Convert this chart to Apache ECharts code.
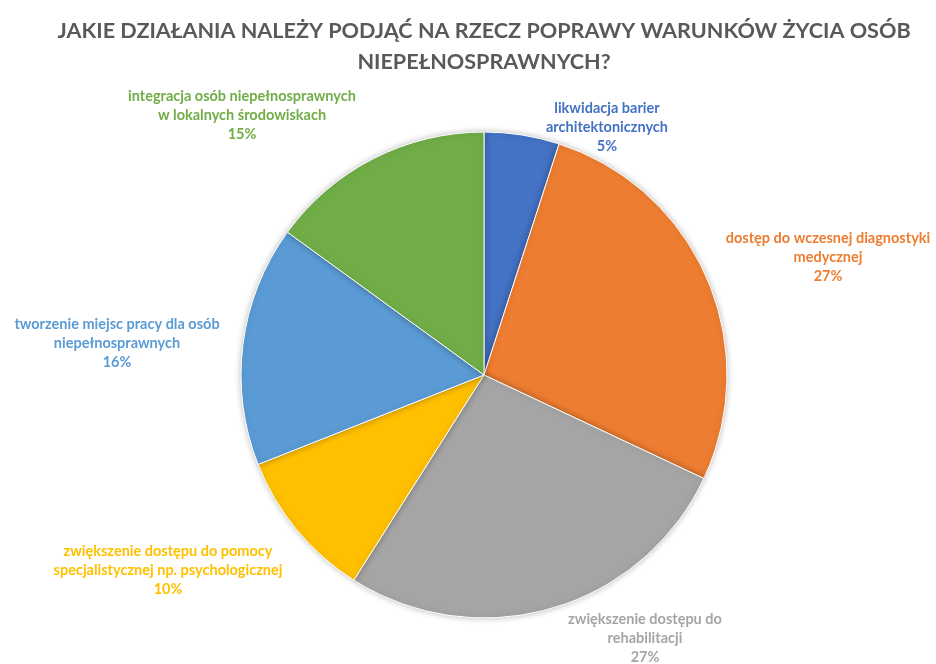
<!DOCTYPE html>
<html>
<head>
<meta charset="utf-8">
<script src="https://cdn.jsdelivr.net/npm/echarts@6/dist/echarts.min.js"></script>
<style>
  html, body { margin: 0; padding: 0; background: #fff; }
  #main { width: 936px; height: 664px; }
</style>
</head>
<body>
<div id="main"></div>
<script>
const categories = [
    'likwidacja barier\narchitektonicznych',
    'dostęp do wczesnej diagnostyki\nmedycznej',
    'zwiększenie dostępu do\nrehabilitacji',
    'zwiększenie dostępu do pomocy\nspecjalistycznej np. psychologicznej',
    'tworzenie miejsc pracy dla osób\nniepełnosprawnych',
    'integracja osób niepełnosprawnych\nw lokalnych środowiskach'
];
const values = [5, 27, 27, 10, 16, 15];

const colors = ['#4472C4', '#ED7D31', '#A5A5A5', '#FFC000', '#5B9BD5', '#70AD47'];
// label centres (px) for each slice
const labelPos = [[607, 127], [828, 257], [645, 638], [168, 570], [117, 343], [242, 115]];

const option = {
    animation: false,
    title: {
        text: 'JAKIE DZIAŁANIA NALEŻY PODJĄĆ NA RZECZ POPRAWY WARUNKÓW ŻYCIA OSÓB\nNIEPEŁNOSPRAWNYCH?',
        left: 479,
        top: 11,
        textAlign: 'center',
        textStyle: {
            fontFamily: 'Lato',
            fontSize: 21.6,
            fontWeight: 'bold',
            color: '#595959',
            lineHeight: 31
        }
    },
    series: [
        {
            type: 'pie',
            radius: 243,
            center: [484, 375],
            startAngle: 90,
            clockwise: true,
            itemStyle: {
                borderColor: '#fff',
                borderWidth: 1,
                shadowBlur: 6,
                shadowColor: 'rgba(0,0,0,0.25)'
            },
            label: {
                show: true,
                position: 'outside',
                formatter: p => p.name + '\n' + p.value + '%',
                fontFamily: 'Lato',
                fontSize: 14.5,
                fontWeight: 'bold',
                lineHeight: 19,
                align: 'center',
                overflow: 'none'
            },
            labelLine: { show: false },
            labelLayout: p => ({
                x: labelPos[p.dataIndex][0],
                y: labelPos[p.dataIndex][1],
                align: 'center',
                verticalAlign: 'middle'
            }),
            data: values.map((v, i) => ({
                value: v,
                name: categories[i],
                itemStyle: { color: colors[i] },
                label: { color: colors[i] }
            }))
        }
    ]
};

const myChart = echarts.init(document.getElementById('main'));
myChart.setOption(option);
</script>
</body>
</html>
